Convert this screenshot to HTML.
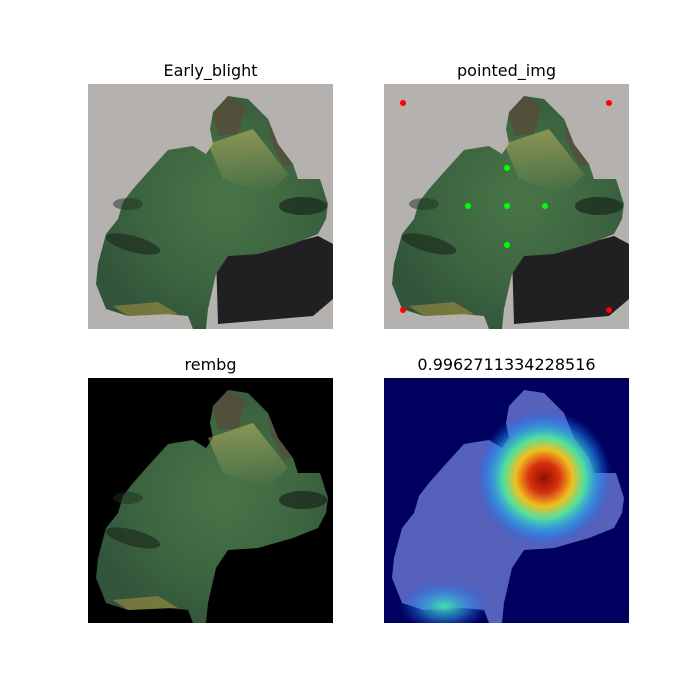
<!DOCTYPE html>
<html><head><meta charset="utf-8"><style>
body{margin:0;background:#fff}
svg{display:block;font-family:"DejaVu Sans","Liberation Sans",sans-serif}
</style></head><body>
<svg id="fig" width="700" height="700" viewBox="0 0 700 700">
<defs>
<clipPath id="clip"><rect x="0" y="0" width="245" height="245"/></clipPath>
<path id="leaf" d="M140,12 L160,15 L180,35 L190,60 L205,80 L210,95 L232,95 L240,120 L238,135 L230,150 L205,160 L170,170 L140,172 L128,190 L120,225 L118,245 L105,245 L100,232 L80,230 L40,232 L18,225 L8,200 L10,180 L18,150 L30,135 L35,118 L45,105 L60,88 L80,66 L105,62 L118,70 L125,60 L122,45 L125,28 Z"/>
<radialGradient id="leafg" cx="0.55" cy="0.45" r="0.6">
<stop offset="0" stop-color="#4a7548"/><stop offset="0.6" stop-color="#3c6540"/><stop offset="1" stop-color="#32543a"/></radialGradient>
<linearGradient id="yel" x1="0" y1="0" x2="0" y2="1"><stop offset="0" stop-color="#b8b060" stop-opacity="0.8"/><stop offset="1" stop-color="#b8b060" stop-opacity="0"/></linearGradient>
<radialGradient id="hot" cx="0.5" cy="0.5" r="0.5">
<stop offset="0" stop-color="#901000"/><stop offset="0.22" stop-color="#d83010"/><stop offset="0.42" stop-color="#f0c020"/><stop offset="0.6" stop-color="#50e0a0"/><stop offset="0.8" stop-color="#20a0f0" stop-opacity="0.6"/><stop offset="1" stop-color="#2060ff" stop-opacity="0"/></radialGradient>
<radialGradient id="cool" cx="0.5" cy="0.5" r="0.5">
<stop offset="0" stop-color="#40e0b0"/><stop offset="0.5" stop-color="#30a0e0" stop-opacity="0.6"/><stop offset="1" stop-color="#2060ff" stop-opacity="0"/></radialGradient>
</defs>
<g id="panels"></g>
</svg>
<script>
const titles=["Early_blight","pointed_img","rembg","0.9962711334228516"];
const panelX=[88,384,88,384];
const panelY=[84,84,378,378];
const redX=[403,609,403,609];
const redY=[103,103,310,310];
const greenX=[507,468,507,545,507];
const greenY=[168,206,206,206,245];
const NS="http://www.w3.org/2000/svg";
const root=document.getElementById('panels');
function mk(tag,attrs,parent){const e=document.createElementNS(NS,tag);for(const k in attrs)e.setAttribute(k,attrs[k]);parent.appendChild(e);return e;}
function leafBody(g){
 mk('use',{href:'#leaf',fill:'url(#leafg)'},g);
 mk('path',{d:'M120,60 L165,45 L200,90 L180,110 L135,95 Z',fill:'url(#yel)',opacity:0.8},g);
 mk('path',{d:'M125,30 L140,12 L158,22 L150,50 L130,52 Z',fill:'#5a4a3a',opacity:0.75},g);
 mk('path',{d:'M180,35 L190,60 L205,80 L195,82 L182,55 Z',fill:'#5a4a3a',opacity:0.7},g);
 mk('ellipse',{cx:215,cy:122,rx:24,ry:9,fill:'#1e2e1e',opacity:0.8},g);
 mk('ellipse',{cx:45,cy:160,rx:28,ry:8,fill:'#1e2e1e',opacity:0.7,transform:'rotate(15 45 160)'},g);
 mk('ellipse',{cx:40,cy:120,rx:15,ry:6,fill:'#1e2e1e',opacity:0.5},g);
 mk('path',{d:'M25,222 L70,218 L90,230 L40,232 Z',fill:'#a09040',opacity:0.6},g);
}
for(let i=0;i<4;i++){
 const g=mk('g',{transform:`translate(${panelX[i]},${panelY[i]})`},root);
 
 
 const c=mk('g',{'clip-path':'url(#clip)'},g);
 if(i<2){
  mk('rect',{x:0,y:0,width:245,height:245,fill:'#b5b1af'},c);
  mk('path',{d:'M128,170 L170,168 L230,152 L245,160 L245,215 L225,232 L130,240 Z',fill:'#202022'},c);
  leafBody(c);
 } else if(i===2){
  mk('rect',{x:0,y:0,width:245,height:245,fill:'#000'},c);
  leafBody(c);
 } else {
  mk('rect',{x:0,y:0,width:245,height:245,fill:'#00005e'},c);
  mk('use',{href:'#leaf',fill:'#5a66c0',opacity:0.95},c);
  mk('circle',{cx:160,cy:100,r:68,fill:'url(#hot)'},c);
  mk('ellipse',{cx:60,cy:228,rx:45,ry:25,fill:'url(#cool)'},c);
 }
 const t=mk('text',{x:122.5,y:-8,'text-anchor':'middle','font-size':16,fill:'#000'},g);
 t.textContent=titles[i];
 
 
}
for(let i=0;i<redX.length;i++){
 const p=mk('circle',{cx:redX[i],cy:redY[i],r:3,fill:'#ff0000'},root);
 
 
}
for(let i=0;i<greenX.length;i++){
 const p=mk('circle',{cx:greenX[i],cy:greenY[i],r:3,fill:'#00ff00'},root);
 
 
}
</script>
</body></html>
